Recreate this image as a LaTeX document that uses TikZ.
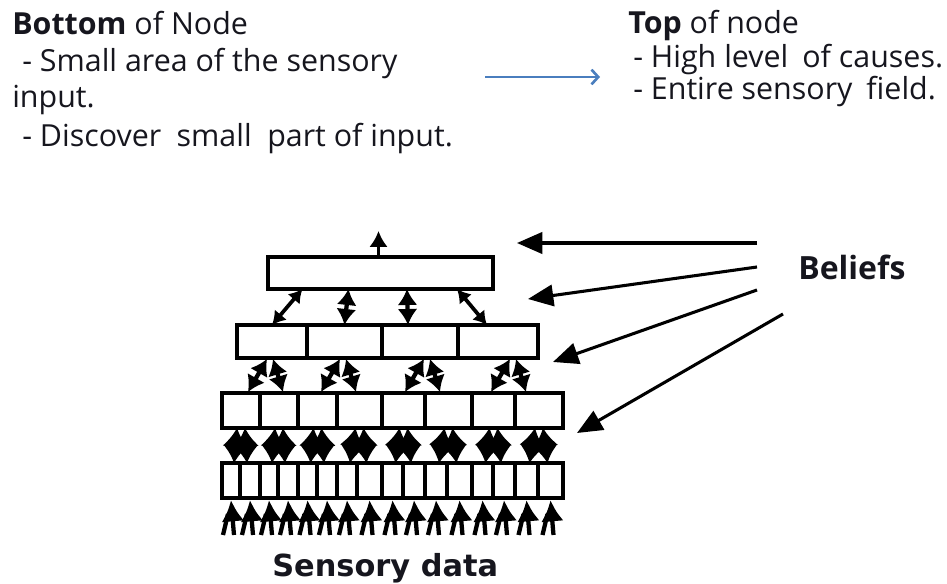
\documentclass[tikz,border=0pt]{standalone}
\usepackage{fontspec}
\setmainfont{Open Sans}
\newfontfamily\labelfont{DejaVu Sans}
\usetikzlibrary{arrows.meta,calc}
\definecolor{ink}{RGB}{22,22,30}
\definecolor{flowblue}{RGB}{74,126,190}
\begin{document}
\begin{tikzpicture}[x=0.75pt,y=-0.75pt,
  cell/.style={draw,line width=2.8pt,inner sep=0pt,outer sep=0pt},
  note/.style={anchor=base west,inner sep=0pt,text=ink,font=\fontsize{22.8pt}{27pt}\selectfont},
  thinlink/.style={line width=2.8pt,{Latex[length=10pt,width=12pt]}-{Latex[length=10pt,width=12pt]}},
  link/.style={line width=3.2pt,{Latex[length=12pt,width=15pt]}-{Latex[length=12pt,width=15pt]}},
  blob/.style={line width=3.5pt,{Latex[length=13pt,width=19pt]}-{Latex[length=14pt,width=20pt]}},
  feed/.style={line width=3.2pt,-{Latex[length=16pt,width=17pt]}},
  leg/.style={line width=3.2pt},
  belief/.style={line width=2.3pt,-{Triangle[length=19pt,width=16pt]}},
  flow/.style={line width=2pt,flowblue,-{Straight Barb[length=5pt,width=11pt]}},
]
\useasboundingbox (0,0) rectangle (947,584);

% ---- texts ----
\node[note] (bl1) at (12,35) {\textbf{Bottom} of Node};
\node[note] (bl2) at (22,72) {- Small area of the sensory};
\node[note] (bl3) at (12,108) {input.};
\node[note] (bl4) at (22,147) {- Discover\hspace{0.25em} small\hspace{0.25em} part of input.};
\node[note] (tr1) at (628,34) {\textbf{Top} of node};
\node[note] (tr2) at (633,68) {- High level\hspace{0.2em} of causes.};
\node[note] (tr3) at (633,100) {- Entire sensory\hspace{0.2em} field.};

\coordinate (fa) at (485,77);
\coordinate (fb) at (600,77);
\draw[flow] (fa) -- (fb);

% ---- hierarchy of nodes ----
\node[cell,minimum width=168.75pt,minimum height=24pt] (L0) at (380.5,273) {};
\foreach \a/\b [count=\k from 0] in {237/307,307/382,382/458,458/538}
  \node[cell,minimum width={(\b-\a)*0.75pt},minimum height=24.75pt] (L1-\k) at ({(\a+\b)/2},341.5) {};
\foreach \a/\b [count=\k from 0] in {222/260,260/298,298/337,337/382,382/425,425/472,472/515,515/563}
  \node[cell,minimum width={(\b-\a)*0.75pt},minimum height=26.25pt] (L2-\k) at ({(\a+\b)/2},410.5) {};
\foreach \a/\b [count=\k from 0] in {222/240,240/260,260/278,278/298,298/317,317/337,337/357,357/382,
                                     382/403,403/425,425/447,447/472,472/493,493/515,515/538,538/563}
  \node[cell,minimum width={(\b-\a)*0.75pt},minimum height=26.25pt] (L3-\k) at ({(\a+\b)/2},480.5) {};

% output of the top node
\coordinate (apex) at ($(L0.north)+(-2,-26)$);
\draw[line width=2.8pt,-{Latex[length=12pt,width=14pt]}] ($(L0.north)+(-2,0)$) -- (apex);

% top <-> second level
\draw[thinlink] (L1-0.north) -- ($(L0.south)+(-78,0)$);
\draw[link] ($(L1-1.north)+(0,0)$) -- ($(L0.south)+(-32,0)$);
\draw[link] ($(L1-2.north)+(-12,0)$) -- ($(L0.south)+(26.5,0)$);
\draw[thinlink] ($(L1-3.north)+(-11,0)$) -- ($(L0.south)+(76.5,0)$);

% second <-> third level
\foreach \i/\lb/\lt/\rb/\rt in {0/7/-5/4/1, 1/3.5/-4.5/-3.5/1.5, 2/1.5/4/-8.5/10, 3/-2.5/12/-13/18}{
  \pgfmathtruncatemacro\ca{2*\i}
  \pgfmathtruncatemacro\cb{2*\i+1}
  \draw[link] ($(L2-\ca.north)+(\lb,-1)$) -- ($(L1-\i.south)+(\lt,1)$);
  \draw[link] ($(L2-\cb.north)+(\rb,-1)$) -- ($(L1-\i.south)+(\rt,1)$);
}

% third <-> bottom level
\foreach \j in {0,...,7}{
  \pgfmathtruncatemacro\ca{2*\j}
  \pgfmathtruncatemacro\cb{2*\j+1}
  \draw[blob] ($(L3-\ca.north)+(3,0)$) -- ($(L2-\j.south)+(-4,0)$);
  \draw[blob] ($(L3-\cb.north)+(-3,0)$) -- ($(L2-\j.south)+(4,0)$);
}

% sensory input
\foreach \k in {0,...,15}{
  \draw[feed] ($(L3-\k.south)+(3,37)$) -- ($(L3-\k.south)+(0,2)$);
  \draw[leg] ($(L3-\k.south)+(-8,37)$) -- ($(L3-\k.south)+(-3,16)$);
}
\node[anchor=base west,inner sep=0pt,text=ink,font=\labelfont\bfseries\fontsize{22.8pt}{26pt}\selectfont] (sens) at (272,577) {Sensory data};

% beliefs
\node[anchor=base west,inner sep=0pt,text=ink,font=\bfseries\fontsize{24pt}{28pt}\selectfont] (beliefs) at (798,280) {Beliefs};
\coordinate (s1) at (757,243); \coordinate (t1) at (517,243);
\coordinate (s2) at (757,267); \coordinate (t2) at (528,299);
\coordinate (s3) at (757,290); \coordinate (t3) at (553,362);
\coordinate (s4) at (783,314); \coordinate (t4) at (577,433);
\foreach \n in {1,...,4}
  \draw[belief] (s\n) -- (t\n);
\end{tikzpicture}
\end{document}
